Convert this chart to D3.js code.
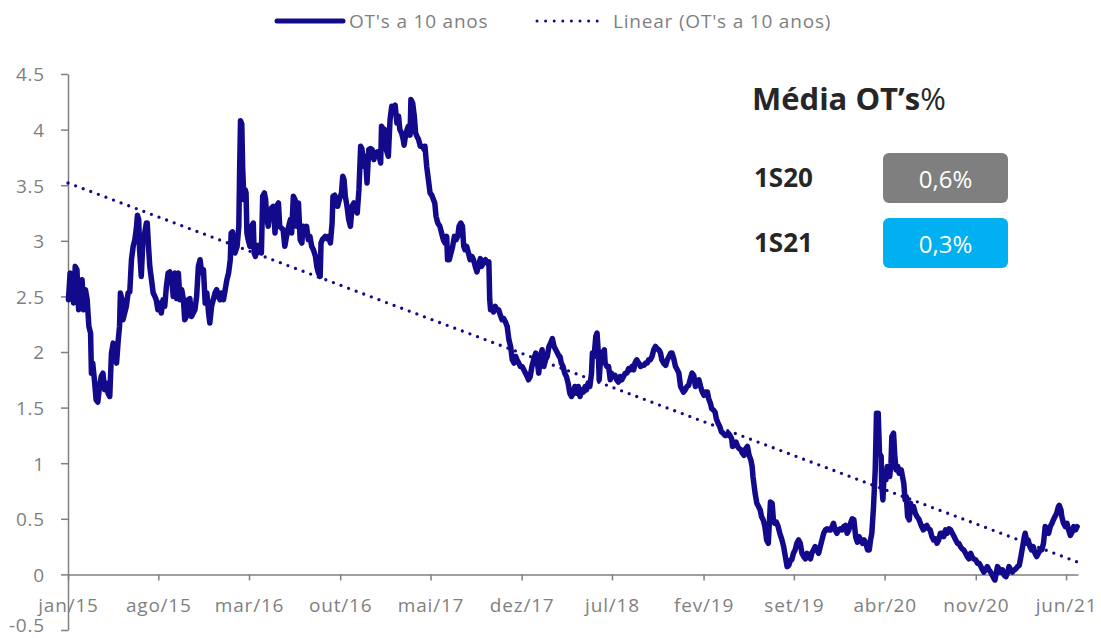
<!DOCTYPE html>
<html>
<head>
<meta charset="utf-8">
<script src="https://cdn.jsdelivr.net/npm/d3@7"></script>
<style>
  body { margin: 0; background: #fff; }
  svg { display: block; font-family: 'Open Sans', sans-serif; }
  .axis text { fill: #7f7f7f; font-size: 19px; letter-spacing: 0.8px; font-family: 'Open Sans', sans-serif; }
  .axis path, .axis line { stroke: #7f7f7f; stroke-width: 1.5; }
</style>
</head>
<body>
<div id="chart"></div>
<script>
const xTickLabels = ['jan/15', 'ago/15', 'mar/16', 'out/16', 'mai/17', 'dez/17', 'jul/18', 'fev/19', 'set/19', 'abr/20', 'nov/20', 'jun/21']
const xTickDates = ['2015-01-01', '2015-08-01', '2016-03-01', '2016-10-01', '2017-05-01', '2017-12-01', '2018-07-01', '2019-02-01', '2019-09-01', '2020-04-01', '2020-11-01', '2021-06-01']
const xDomain = ['2015-01-01', '2021-06-29']
const yTicks = [-0.5, 0, 0.5, 1, 1.5, 2, 2.5, 3, 3.5, 4, 4.5]
const seriesNames = ["OT's a 10 anos", "Linear (OT's a 10 anos)"]
// trend line values at the start and end of the axis
const trendEnds = [3.52, 0.11]
const summaryTitle = 'Média OT’s'
const summaryLabels = ['1S20', '1S21']
const summaryValues = ['0,6%', '0,3%']

// 10y yield
const ot10y = [
  ['2015-01-02', 2.47], ['2015-01-06', 2.71], ['2015-01-10', 2.59], ['2015-01-14', 2.44], ['2015-01-18', 2.77], ['2015-01-22', 2.74],
  ['2015-01-26', 2.38], ['2015-01-30', 2.59], ['2015-02-03', 2.65], ['2015-02-07', 2.38], ['2015-02-11', 2.56], ['2015-02-15', 2.47],
  ['2015-02-19', 2.23], ['2015-02-23', 2.17], ['2015-02-25', 1.81], ['2015-02-28', 1.90], ['2015-03-04', 1.75], ['2015-03-08', 1.57],
  ['2015-03-12', 1.55], ['2015-03-16', 1.69], ['2015-03-20', 1.78], ['2015-03-24', 1.81], ['2015-03-28', 1.66], ['2015-04-01', 1.72],
  ['2015-04-05', 1.63], ['2015-04-09', 1.60], ['2015-04-13', 1.99], ['2015-04-17', 2.08], ['2015-04-21', 2.05], ['2015-04-25', 1.90],
  ['2015-04-29', 2.11], ['2015-05-02', 2.23], ['2015-05-04', 2.53], ['2015-05-08', 2.47], ['2015-05-10', 2.29], ['2015-05-14', 2.35],
  ['2015-05-18', 2.41], ['2015-05-22', 2.53], ['2015-05-26', 2.54], ['2015-05-30', 2.83], ['2015-06-03', 2.95], ['2015-06-07', 3.01],
  ['2015-06-11', 3.13], ['2015-06-13', 3.23], ['2015-06-16', 3.19], ['2015-06-18', 2.92], ['2015-06-22', 2.68], ['2015-06-26', 3.01],
  ['2015-06-30', 3.07], ['2015-07-04', 3.16], ['2015-07-06', 3.16], ['2015-07-09', 2.95], ['2015-07-12', 2.77], ['2015-07-16', 2.65],
  ['2015-07-20', 2.53], ['2015-07-24', 2.50], ['2015-07-27', 2.47], ['2015-07-31', 2.38], ['2015-08-04', 2.44], ['2015-08-08', 2.35],
  ['2015-08-12', 2.47], ['2015-08-16', 2.41], ['2015-08-20', 2.59], ['2015-08-24', 2.71], ['2015-08-28', 2.72], ['2015-09-01', 2.68],
  ['2015-09-05', 2.50], ['2015-09-09', 2.71], ['2015-09-13', 2.48], ['2015-09-17', 2.71], ['2015-09-21', 2.47], ['2015-09-25', 2.56],
  ['2015-09-29', 2.47], ['2015-10-02', 2.29], ['2015-10-06', 2.32], ['2015-10-10', 2.47], ['2015-10-14', 2.48], ['2015-10-18', 2.32],
  ['2015-10-22', 2.35], ['2015-10-26', 2.38], ['2015-10-30', 2.50], ['2015-11-03', 2.77], ['2015-11-07', 2.83], ['2015-11-11', 2.71],
  ['2015-11-15', 2.74], ['2015-11-19', 2.44], ['2015-11-23', 2.53], ['2015-11-27', 2.35], ['2015-11-30', 2.26], ['2015-12-04', 2.41],
  ['2015-12-08', 2.47], ['2015-12-12', 2.53], ['2015-12-16', 2.56], ['2015-12-20', 2.50], ['2015-12-24', 2.47], ['2015-12-27', 2.53],
  ['2016-01-01', 2.47], ['2016-01-05', 2.56], ['2016-01-09', 2.65], ['2016-01-13', 2.71], ['2016-01-17', 2.83], ['2016-01-19', 3.07],
  ['2016-01-22', 3.08], ['2016-01-24', 3.01], ['2016-01-28', 2.89], ['2016-02-02', 2.95], ['2016-02-06', 3.13], ['2016-02-08', 3.66],
  ['2016-02-10', 4.08], ['2016-02-13', 4.05], ['2016-02-15', 3.66], ['2016-02-18', 3.37], ['2016-02-21', 3.46], ['2016-02-23', 3.43],
  ['2016-02-25', 3.07], ['2016-02-28', 3.01], ['2016-03-03', 2.95], ['2016-03-07', 3.13], ['2016-03-11', 3.16], ['2016-03-13', 2.89],
  ['2016-03-16', 2.86], ['2016-03-18', 2.95], ['2016-03-22', 2.96], ['2016-03-26', 2.95], ['2016-03-30', 2.89], ['2016-04-02', 3.40],
  ['2016-04-06', 3.43], ['2016-04-09', 3.37], ['2016-04-11', 3.22], ['2016-04-15', 3.13], ['2016-04-19', 3.28], ['2016-04-27', 3.31],
  ['2016-05-01', 3.07], ['2016-05-05', 3.31], ['2016-05-09', 3.34], ['2016-05-12', 3.13], ['2016-05-20', 3.10], ['2016-05-24', 2.95],
  ['2016-05-28', 3.04], ['2016-06-02', 3.13], ['2016-06-06', 3.19], ['2016-06-09', 3.07], ['2016-06-13', 3.40], ['2016-06-17', 3.37],
  ['2016-06-21', 3.13], ['2016-06-25', 3.34], ['2016-06-29', 3.01], ['2016-07-03', 2.98], ['2016-07-06', 3.13], ['2016-07-10', 3.11],
  ['2016-07-14', 3.13], ['2016-07-18', 3.01], ['2016-07-22', 3.04], ['2016-07-26', 2.95], ['2016-07-30', 2.92], ['2016-08-04', 2.86],
  ['2016-08-07', 2.77], ['2016-08-11', 2.71], ['2016-08-15', 2.68], ['2016-08-17', 2.98], ['2016-08-20', 3.01], ['2016-08-27', 3.04],
  ['2016-08-31', 3.02], ['2016-09-04', 3.04], ['2016-09-08', 2.98], ['2016-09-12', 3.16], ['2016-09-14', 3.40], ['2016-09-18', 3.41],
  ['2016-09-21', 3.38], ['2016-09-25', 3.31], ['2016-09-29', 3.37], ['2016-10-04', 3.43], ['2016-10-07', 3.58], ['2016-10-10', 3.55],
  ['2016-10-13', 3.40], ['2016-10-17', 3.31], ['2016-10-21', 3.19], ['2016-10-25', 3.13], ['2016-10-29', 3.31], ['2016-11-02', 3.34],
  ['2016-11-06', 3.28], ['2016-11-10', 3.25], ['2016-11-14', 3.46], ['2016-11-18', 3.85], ['2016-11-21', 3.83], ['2016-11-25', 3.67],
  ['2016-11-29', 3.76], ['2016-12-03', 3.52], ['2016-12-07', 3.82], ['2016-12-11', 3.83], ['2016-12-15', 3.82], ['2016-12-19', 3.73],
  ['2016-12-23', 3.79], ['2016-12-27', 3.80], ['2016-12-31', 3.77], ['2017-01-04', 3.70], ['2017-01-06', 4.03], ['2017-01-09', 4.01],
  ['2017-01-14', 4.00], ['2017-01-17', 3.82], ['2017-01-22', 3.76], ['2017-01-26', 4.09], ['2017-01-30', 4.21], ['2017-02-03', 4.19],
  ['2017-02-07', 4.22], ['2017-02-11', 4.06], ['2017-02-15', 4.12], ['2017-02-18', 4.00], ['2017-02-22', 3.97], ['2017-02-26', 3.91],
  ['2017-02-28', 3.86], ['2017-03-03', 3.94], ['2017-03-07', 4.00], ['2017-03-10', 4.03], ['2017-03-14', 3.95], ['2017-03-16', 4.27],
  ['2017-03-20', 4.24], ['2017-03-24', 4.12], ['2017-03-27', 3.97], ['2017-03-30', 3.94], ['2017-04-03', 3.91], ['2017-04-07', 3.85],
  ['2017-04-12', 3.85], ['2017-04-16', 3.82], ['2017-04-18', 3.85], ['2017-04-22', 3.67], ['2017-04-26', 3.55], ['2017-04-30', 3.43],
  ['2017-05-04', 3.41], ['2017-05-08', 3.37], ['2017-05-11', 3.34], ['2017-05-14', 3.22], ['2017-05-18', 3.16], ['2017-05-23', 3.13],
  ['2017-05-27', 3.07], ['2017-05-31', 3.01], ['2017-06-04', 2.98], ['2017-06-08', 3.04], ['2017-06-10', 2.83], ['2017-06-14', 2.83],
  ['2017-06-18', 2.89], ['2017-06-22', 2.95], ['2017-06-26', 3.04], ['2017-06-30', 3.01], ['2017-07-04', 3.04], ['2017-07-07', 3.13],
  ['2017-07-11', 3.16], ['2017-07-15', 3.13], ['2017-07-18', 2.95], ['2017-07-21', 2.92], ['2017-07-25', 2.95], ['2017-07-29', 2.89],
  ['2017-08-02', 2.83], ['2017-08-06', 2.86], ['2017-08-10', 2.83], ['2017-08-14', 2.77], ['2017-08-18', 2.72], ['2017-08-22', 2.78],
  ['2017-08-26', 2.84], ['2017-08-29', 2.77], ['2017-09-03', 2.81], ['2017-09-07', 2.83], ['2017-09-11', 2.80], ['2017-09-15', 2.81],
  ['2017-09-17', 2.47], ['2017-09-19', 2.38], ['2017-09-23', 2.39], ['2017-09-26', 2.36], ['2017-09-30', 2.41], ['2017-10-04', 2.38],
  ['2017-10-08', 2.38], ['2017-10-12', 2.33], ['2017-10-16', 2.29], ['2017-10-20', 2.30], ['2017-10-24', 2.27], ['2017-10-28', 2.23],
  ['2017-11-01', 2.11], ['2017-11-05', 2.05], ['2017-11-09', 1.93], ['2017-11-13', 1.90], ['2017-11-17', 1.96], ['2017-11-20', 1.93],
  ['2017-11-24', 1.90], ['2017-11-28', 1.87], ['2017-12-02', 1.87], ['2017-12-06', 1.84], ['2017-12-10', 1.81], ['2017-12-14', 1.78],
  ['2017-12-17', 1.75], ['2017-12-21', 1.78], ['2017-12-25', 1.87], ['2017-12-29', 1.93], ['2018-01-03', 1.99], ['2018-01-07', 1.90],
  ['2018-01-10', 1.81], ['2018-01-14', 1.96], ['2018-01-18', 2.02], ['2018-01-22', 1.87], ['2018-01-26', 1.93], ['2018-01-30', 1.96],
  ['2018-02-03', 2.05], ['2018-02-07', 2.08], ['2018-02-11', 2.12], ['2018-02-15', 2.05], ['2018-02-19', 2.02], ['2018-02-23', 1.99],
  ['2018-02-27', 1.96], ['2018-03-01', 1.96], ['2018-03-04', 1.90], ['2018-03-08', 1.87], ['2018-03-12', 1.81], ['2018-03-16', 1.78],
  ['2018-03-20', 1.72], ['2018-03-24', 1.63], ['2018-03-28', 1.60], ['2018-04-01', 1.63], ['2018-04-05', 1.69], ['2018-04-09', 1.63],
  ['2018-04-13', 1.69], ['2018-04-17', 1.60], ['2018-04-21', 1.66], ['2018-04-25', 1.64], ['2018-04-29', 1.69], ['2018-05-02', 1.66],
  ['2018-05-06', 1.72], ['2018-05-10', 1.69], ['2018-05-14', 1.81], ['2018-05-16', 1.99], ['2018-05-20', 1.96], ['2018-05-24', 2.14],
  ['2018-05-27', 2.17], ['2018-05-30', 1.99], ['2018-06-01', 1.75], ['2018-06-05', 1.99], ['2018-06-09', 1.99], ['2018-06-13', 2.02],
  ['2018-06-15', 1.90], ['2018-06-19', 1.87], ['2018-06-23', 1.87], ['2018-06-27', 1.75], ['2018-06-30', 1.81], ['2018-07-04', 1.78],
  ['2018-07-08', 1.79], ['2018-07-12', 1.75], ['2018-07-16', 1.73], ['2018-07-20', 1.78], ['2018-07-24', 1.75], ['2018-07-28', 1.78],
  ['2018-08-01', 1.81], ['2018-08-05', 1.81], ['2018-08-09', 1.85], ['2018-08-13', 1.84], ['2018-08-17', 1.87], ['2018-08-21', 1.84],
  ['2018-08-24', 1.90], ['2018-08-28', 1.93], ['2018-09-02', 1.90], ['2018-09-06', 1.87], ['2018-09-10', 1.88], ['2018-09-14', 1.88],
  ['2018-09-18', 1.90], ['2018-09-22', 1.90], ['2018-09-25', 1.93], ['2018-09-29', 1.93], ['2018-10-03', 1.96], ['2018-10-07', 2.02],
  ['2018-10-11', 2.05], ['2018-10-15', 2.03], ['2018-10-19', 2.02], ['2018-10-23', 1.99], ['2018-10-26', 1.93], ['2018-10-30', 1.90],
  ['2018-11-04', 1.88], ['2018-11-08', 1.93], ['2018-11-12', 1.96], ['2018-11-16', 1.99], ['2018-11-19', 1.99], ['2018-11-23', 1.94],
  ['2018-11-27', 1.87], ['2018-11-30', 1.85], ['2018-12-05', 1.81], ['2018-12-09', 1.69], ['2018-12-13', 1.66], ['2018-12-16', 1.64],
  ['2018-12-20', 1.66], ['2018-12-24', 1.69], ['2018-12-28', 1.70], ['2019-01-01', 1.76], ['2019-01-05', 1.81], ['2019-01-09', 1.79],
  ['2019-01-13', 1.69], ['2019-01-17', 1.72], ['2019-01-21', 1.75], ['2019-01-25', 1.69], ['2019-01-29', 1.64], ['2019-02-02', 1.61],
  ['2019-02-06', 1.64], ['2019-02-10', 1.64], ['2019-02-13', 1.58], ['2019-02-17', 1.54], ['2019-02-20', 1.49], ['2019-02-24', 1.48],
  ['2019-02-28', 1.46], ['2019-03-03', 1.40], ['2019-03-07', 1.36], ['2019-03-11', 1.33], ['2019-03-15', 1.28], ['2019-03-19', 1.27],
  ['2019-03-23', 1.25], ['2019-03-27', 1.25], ['2019-03-31', 1.27], ['2019-04-04', 1.25], ['2019-04-08', 1.22], ['2019-04-10', 1.15],
  ['2019-04-14', 1.16], ['2019-04-18', 1.19], ['2019-04-22', 1.15], ['2019-04-26', 1.13], ['2019-04-30', 1.12], ['2019-05-03', 1.09],
  ['2019-05-07', 1.07], ['2019-05-11', 1.13], ['2019-05-15', 1.15], ['2019-05-19', 1.07], ['2019-05-23', 1.03], ['2019-05-26', 0.97],
  ['2019-05-28', 0.88], ['2019-06-02', 0.73], ['2019-06-06', 0.64], ['2019-06-10', 0.61], ['2019-06-14', 0.58], ['2019-06-17', 0.52],
  ['2019-06-21', 0.49], ['2019-06-25', 0.43], ['2019-06-29', 0.31], ['2019-07-03', 0.28], ['2019-07-05', 0.43], ['2019-07-08', 0.65],
  ['2019-07-12', 0.64], ['2019-07-15', 0.49], ['2019-07-18', 0.46], ['2019-07-22', 0.47], ['2019-07-26', 0.43], ['2019-07-30', 0.37],
  ['2019-08-04', 0.31], ['2019-08-08', 0.25], ['2019-08-12', 0.16], ['2019-08-16', 0.07], ['2019-08-20', 0.08], ['2019-08-24', 0.13],
  ['2019-08-27', 0.13], ['2019-08-31', 0.19], ['2019-09-04', 0.22], ['2019-09-08', 0.28], ['2019-09-12', 0.31], ['2019-09-16', 0.28],
  ['2019-09-20', 0.19], ['2019-09-24', 0.16], ['2019-09-28', 0.14], ['2019-10-02', 0.19], ['2019-10-06', 0.16], ['2019-10-10', 0.14],
  ['2019-10-13', 0.19], ['2019-10-17', 0.22], ['2019-10-21', 0.25], ['2019-10-25', 0.22], ['2019-10-29', 0.19], ['2019-11-02', 0.25],
  ['2019-11-06', 0.31], ['2019-11-10', 0.37], ['2019-11-14', 0.40], ['2019-11-18', 0.41], ['2019-11-22', 0.40], ['2019-11-26', 0.40],
  ['2019-11-30', 0.43], ['2019-12-03', 0.46], ['2019-12-07', 0.40], ['2019-12-11', 0.37], ['2019-12-15', 0.40], ['2019-12-19', 0.41],
  ['2019-12-23', 0.40], ['2019-12-27', 0.43], ['2019-12-31', 0.44], ['2020-01-04', 0.37], ['2020-01-08', 0.40], ['2020-01-12', 0.46],
  ['2020-01-16', 0.50], ['2020-01-20', 0.49], ['2020-01-24', 0.34], ['2020-01-28', 0.29], ['2020-02-01', 0.34], ['2020-02-05', 0.31],
  ['2020-02-09', 0.28], ['2020-02-13', 0.31], ['2020-02-17', 0.28], ['2020-02-21', 0.22], ['2020-02-25', 0.22], ['2020-02-28', 0.31],
  ['2020-03-02', 0.37], ['2020-03-06', 0.61], ['2020-03-10', 0.94], ['2020-03-13', 1.45], ['2020-03-17', 1.45], ['2020-03-20', 1.09],
  ['2020-03-24', 1.06], ['2020-03-25', 0.82], ['2020-03-28', 0.67], ['2020-03-31', 0.91], ['2020-04-04', 0.85], ['2020-04-07', 0.97],
  ['2020-04-11', 0.94], ['2020-04-13', 0.88], ['2020-04-16', 1.00], ['2020-04-18', 1.24], ['2020-04-22', 1.27], ['2020-04-25', 1.06],
  ['2020-04-28', 0.94], ['2020-05-02', 0.97], ['2020-05-05', 0.91], ['2020-05-10', 0.94], ['2020-05-13', 0.88], ['2020-05-16', 0.82],
  ['2020-05-19', 0.67], ['2020-05-22', 0.70], ['2020-05-25', 0.52], ['2020-05-29', 0.49], ['2020-06-01', 0.64], ['2020-06-04', 0.58],
  ['2020-06-08', 0.61], ['2020-06-12', 0.55], ['2020-06-16', 0.52], ['2020-06-20', 0.50], ['2020-06-24', 0.46], ['2020-06-27', 0.43],
  ['2020-07-01', 0.40], ['2020-07-05', 0.43], ['2020-07-09', 0.44], ['2020-07-13', 0.41], ['2020-07-17', 0.40], ['2020-07-21', 0.34],
  ['2020-07-25', 0.31], ['2020-07-29', 0.32], ['2020-08-02', 0.28], ['2020-08-06', 0.31], ['2020-08-10', 0.37], ['2020-08-14', 0.37],
  ['2020-08-18', 0.34], ['2020-08-22', 0.40], ['2020-08-26', 0.37], ['2020-08-30', 0.41], ['2020-09-03', 0.40], ['2020-09-07', 0.37],
  ['2020-09-11', 0.34], ['2020-09-15', 0.31], ['2020-09-19', 0.28], ['2020-09-22', 0.28], ['2020-09-26', 0.25], ['2020-09-30', 0.23],
  ['2020-10-04', 0.22], ['2020-10-08', 0.19], ['2020-10-12', 0.16], ['2020-10-16', 0.14], ['2020-10-20', 0.19], ['2020-10-23', 0.16],
  ['2020-10-27', 0.14], ['2020-11-01', 0.13], ['2020-11-05', 0.10], ['2020-11-09', 0.10], ['2020-11-13', 0.07], ['2020-11-17', 0.04],
  ['2020-11-20', 0.02], ['2020-11-24', 0.04], ['2020-11-28', 0.07], ['2020-12-02', 0.04], ['2020-12-06', 0.02], ['2020-12-10', -0.01],
  ['2020-12-14', -0.04], ['2020-12-16', -0.05], ['2020-12-19', 0.01], ['2020-12-22', 0.07], ['2020-12-26', 0.05], ['2020-12-29', 0.02],
  ['2021-01-03', 0.04], ['2021-01-07', -0.01], ['2021-01-11', -0.02], ['2021-01-15', 0.02], ['2021-01-18', 0.07], ['2021-01-22', 0.04],
  ['2021-01-26', 0.02], ['2021-01-30', 0.04], ['2021-02-03', 0.05], ['2021-02-07', 0.07], ['2021-02-11', 0.08], ['2021-02-15', 0.16],
  ['2021-02-19', 0.25], ['2021-02-23', 0.34], ['2021-02-25', 0.37], ['2021-02-28', 0.31], ['2021-03-02', 0.28], ['2021-03-04', 0.31],
  ['2021-03-08', 0.25], ['2021-03-12', 0.22], ['2021-03-16', 0.25], ['2021-03-20', 0.19], ['2021-03-24', 0.16], ['2021-03-28', 0.19],
  ['2021-04-01', 0.22], ['2021-04-05', 0.22], ['2021-04-09', 0.28], ['2021-04-13', 0.43], ['2021-04-17', 0.40], ['2021-04-21', 0.37],
  ['2021-04-25', 0.43], ['2021-04-29', 0.46], ['2021-05-02', 0.49], ['2021-05-06', 0.52], ['2021-05-10', 0.55], ['2021-05-14', 0.61],
  ['2021-05-16', 0.62], ['2021-05-20', 0.58], ['2021-05-22', 0.52], ['2021-05-26', 0.46], ['2021-05-30', 0.43], ['2021-06-03', 0.46],
  ['2021-06-07', 0.40], ['2021-06-11', 0.35], ['2021-06-15', 0.38], ['2021-06-19', 0.43], ['2021-06-23', 0.40], ['2021-06-27', 0.43]
]

const width = 1101
const height = 638
const margin = { top: 74, right: 23, bottom: 8, left: 68 }
const lineColor = '#12098b'
const parse = d3.utcParse('%Y-%m-%d')

const svg = d3.select('#chart').append('svg')
  .attr('width', width)
  .attr('height', height)

const x = d3.scaleUtc()
  .domain(xDomain.map(parse))
  .range([margin.left, width - margin.right])

const y = d3.scaleLinear()
  .domain([-0.5, 4.5])
  .range([height - margin.bottom, margin.top])

// y axis
svg.append('g')
  .attr('class', 'axis axis--y')
  .attr('transform', 'translate(' + margin.left + ',0)')
  .call(d3.axisLeft(y)
    .tickValues(yTicks)
    .tickFormat(d => String(d))
    .tickSize(7)
    .tickSizeOuter(0)
    .tickPadding(16))
  // the bottom label sits on the picture edge, lift it a little
  .call(g => g.selectAll('text').attr('dy', d => d < 0 ? '0.1em' : '0.36em'))

// x axis sits on the zero line
svg.append('g')
  .attr('class', 'axis axis--x')
  .attr('transform', 'translate(0,' + y(0) + ')')
  .call(d3.axisBottom(x)
    .tickValues(xTickDates.map(parse))
    .tickFormat((d, i) => xTickLabels[i])
    .tickSize(6)
    .tickSizeOuter(0)
    .tickPadding(18))

const line = d3.line()
  .x(d => x(parse(d[0])))
  .y(d => y(d[1]))
  .curve(d3.curveLinear)

svg.append('path')
  .datum(ot10y)
  .attr('fill', 'none')
  .attr('stroke', lineColor)
  .attr('stroke-width', 5.5)
  .attr('stroke-linejoin', 'round')
  .attr('stroke-linecap', 'round')
  .attr('d', line)

// linear trend
svg.append('line')
  .attr('x1', x(parse(xDomain[0])))
  .attr('y1', y(trendEnds[0]))
  .attr('x2', x(parse(xDomain[1])))
  .attr('y2', y(trendEnds[1]))
  .attr('stroke', lineColor)
  .attr('stroke-width', 3.3)
  .attr('stroke-linecap', 'round')
  .attr('stroke-dasharray', '0 8.1')

// legend
const legend = svg.append('g').attr('class', 'legend')
legend.append('line')
  .attr('x1', 277).attr('x2', 343).attr('y1', 21).attr('y2', 21)
  .attr('stroke', lineColor).attr('stroke-width', 5).attr('stroke-linecap', 'round')
legend.append('line')
  .attr('x1', 537).attr('x2', 598).attr('y1', 21).attr('y2', 21)
  .attr('stroke', lineColor).attr('stroke-width', 3).attr('stroke-linecap', 'round')
  .attr('stroke-dasharray', '0 8.6')
legend.selectAll('text')
  .data(seriesNames)
  .enter()
  .append('text')
  .attr('x', (d, i) => [349, 613][i])
  .attr('y', 28)
  .attr('fill', '#7f7f7f')
  .attr('font-size', 19)
  .attr('letter-spacing', 0.8)
  .text(d => d)

// summary panel
const panel = svg.append('g').attr('class', 'summary')
const title = panel.append('text')
  .attr('x', 752)
  .attr('y', 110)
  .attr('fill', '#262626')
  .attr('font-size', 31)
  .attr('font-weight', 700)
title.append('tspan').text(summaryTitle)
title.append('tspan').attr('font-weight', 400).text('%')

const rows = panel.selectAll('.row')
  .data(summaryLabels)
  .enter()
  .append('g')
  .attr('class', 'row')
  .attr('transform', (d, i) => 'translate(0,' + (153 + i * 65) + ')')

rows.append('text')
  .attr('x', 754)
  .attr('y', 34)
  .attr('fill', '#262626')
  .attr('font-size', 26)
  .attr('font-weight', 700)
  .text(d => d)

rows.append('rect')
  .attr('x', 883)
  .attr('y', 0)
  .attr('width', 125)
  .attr('height', 50)
  .attr('rx', 6)
  .attr('fill', (d, i) => ['#7f7f7f', '#00b0f0'][i])

rows.append('text')
  .attr('x', 945.5)
  .attr('y', 35)
  .attr('text-anchor', 'middle')
  .attr('fill', '#fff')
  .attr('font-size', 24)
  .text((d, i) => summaryValues[i])
</script>
</body>
</html>
